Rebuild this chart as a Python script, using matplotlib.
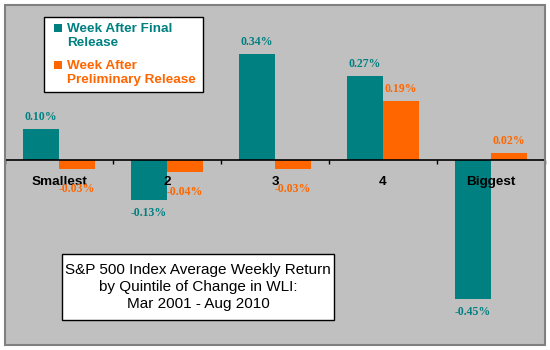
#S&P 500 weekly return by quintile of change in WLI - chart remake

#import numpy
import numpy as np
#import matplotlib
import matplotlib.pyplot as plt
from matplotlib.patches import Rectangle

#chart data
quintiles = ['Smallest', '2', '3', '4', 'Biggest']
final_release = [0.10, -0.13, 0.34, 0.27, -0.45]
prelim_release = [-0.03, -0.04, -0.03, 0.19, 0.02]
series_names = ['Week After Final\nRelease', 'Week After\nPreliminary Release']
title_text = 'S&P 500 Index Average Weekly Return\nby Quintile of Change in WLI:\nMar 2001 - Aug 2010'

#colours (Excel default palette)
teal = '#008080'
orange = '#FF6600'
grey_bg = '#C0C0C0'
grey_edge = '#808080'

W, H = 550, 350

#helper to turn reference pixel coords into figure fractions
def px(x, y):
    """pixel position (from top-left) to figure fraction"""
    return x / W, 1 - y / H

fig = plt.figure(figsize=(W / 100, H / 100), dpi=100, facecolor='white')
ax = fig.add_axes([5 / W, 5 / H, 540 / W, 340 / H], facecolor=grey_bg)

x = np.arange(len(quintiles))
bw = 1 / 3
ax.bar(x - bw / 2, final_release, bw, color=teal, zorder=1)
ax.bar(x + bw / 2, prelim_release, bw, color=orange, zorder=1)

ax.set_xlim(-0.5, len(quintiles) - 0.5)
ax.set_ylim(-0.6, 0.5)

#value labels above / below each bar
for xs, vals, col in [(x - bw / 2, final_release, teal), (x + bw / 2, prelim_release, orange)]:
    for xi, v in zip(xs, vals):
        if v >= 0:
            off = 12
        elif v > -0.05:
            off = -20
        else:
            off = -13
        ax.annotate(f'{v:.2f}%', (xi, v), xytext=(0, off), textcoords='offset pixels',
                    ha='center', va='center', color=col, fontsize=8.5, fontweight='bold',
                    family='Liberation Serif')

#axis line at zero with tick marks between categories
for s in ['left', 'right', 'top']:
    ax.spines[s].set_visible(False)
ax.spines['bottom'].set_position(('data', 0))
ax.spines['bottom'].set_color('black')
ax.spines['bottom'].set_linewidth(1.2)
ax.set_xticks(np.arange(-0.5, len(quintiles), 1))
ax.set_xticklabels([])
ax.tick_params(axis='x', which='major', direction='out', length=3, width=1, color='black')
ax.set_xticks(x, minor=True)
ax.set_xticklabels(quintiles, minor=True, fontsize=9.7, fontweight='bold', family='Liberation Sans')
ax.tick_params(axis='x', which='minor', length=0, pad=12)
ax.set_yticks([])

#grey frame round the plot area
ax.add_patch(Rectangle((0, 0), 1, 1, transform=ax.transAxes, fill=False,
                       ec=grey_edge, lw=1.5, clip_on=False, zorder=5))

#legend box drawn by hand
lx0, ly0 = px(44, 92)
lx1, ly1 = px(203, 17)
fig.patches.append(Rectangle((lx0, ly0), lx1 - lx0, ly1 - ly0, transform=fig.transFigure,
                             fc='white', ec='black', lw=1, zorder=3))
for i, (name, col) in enumerate(zip(series_names, [teal, orange])):
    top = 24 + i * 37
    mx, my = px(54, top + 8)
    fig.patches.append(Rectangle((mx, my), 8 / W, 8 / H, transform=fig.transFigure,
                                 fc=col, ec='none', zorder=4))
    tx, ty = px(67, top + 12)
    fig.text(tx, ty, name, color=col, fontsize=9.7, fontweight='bold', family='Liberation Sans',
             ha='left', va='center', linespacing=1.2, zorder=4)

#title box drawn by hand
bx0, by0 = px(62, 320)
bx1, by1 = px(334, 254)
fig.patches.append(Rectangle((bx0, by0), bx1 - bx0, by1 - by0, transform=fig.transFigure,
                             fc='white', ec='black', lw=1, zorder=3))
tx, ty = px(198, 287)
fig.text(tx, ty, title_text, fontsize=11, family='Liberation Sans', ha='center', va='center',
         multialignment='center', linespacing=1.25, zorder=4)

fig.savefig('out.png', dpi=100, facecolor='white')
